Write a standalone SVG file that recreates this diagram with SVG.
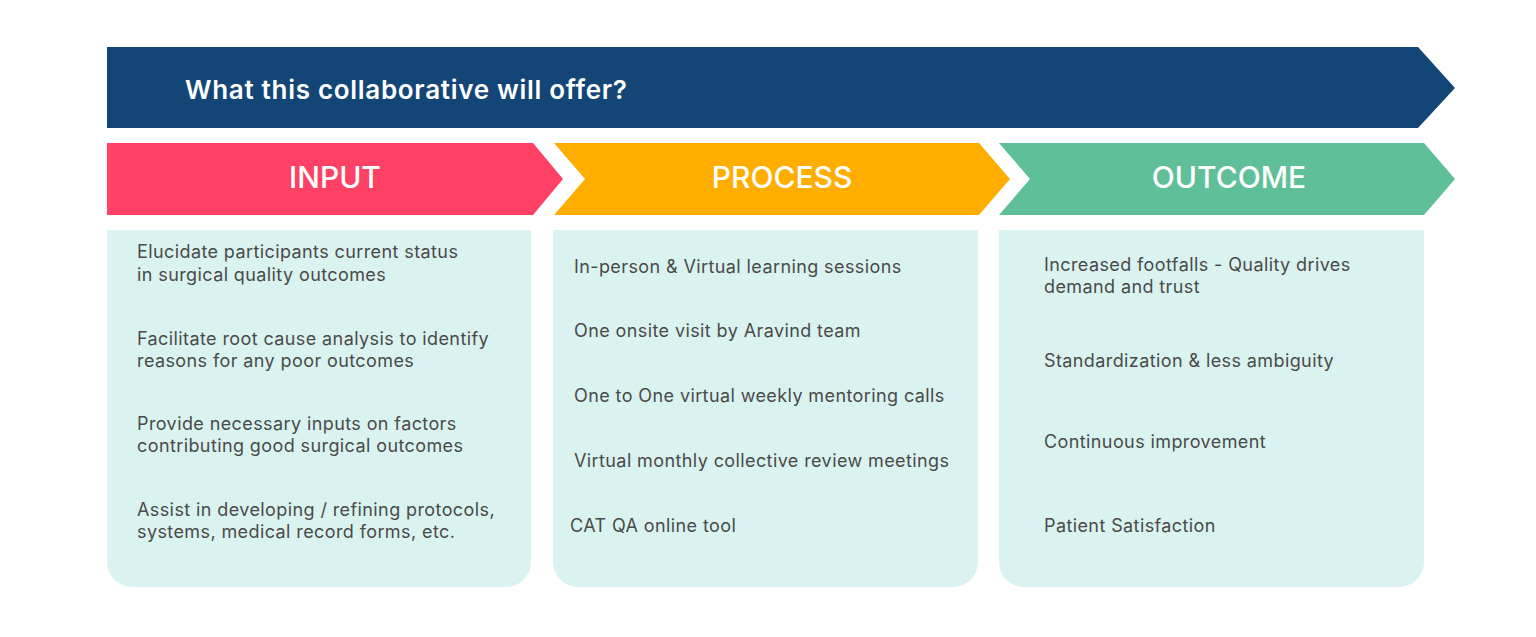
<svg xmlns="http://www.w3.org/2000/svg" width="1536" height="637" viewBox="0 0 1536 637">
<style>
.hdr{font-family:Inter,"Noto Sans",sans-serif;font-weight:600;fill:#ffffff;letter-spacing:0.7px}
.stage{font-family:Inter,"Noto Sans",sans-serif;font-weight:500;font-size:30px;fill:#ffffff;text-anchor:middle}
.item{font-family:Inter,"Noto Sans",sans-serif;font-size:18px;fill:#4a4a4a;letter-spacing:0.4px}
.panel{fill:#daf3f0}
</style>
<rect width="1536" height="637" fill="#ffffff"/>
<g id="banner">
<polygon points="107,47 1418,47 1455,88 1418,128 107,128" fill="#134677"/>
<text class="hdr" x="185" y="99" font-size="26">What this collaborative will offer?</text>
</g>
<g id="input">
<polygon points="107,143 533,143 563,179 533,215 107,215" fill="#ff4165"/>
<text class="stage" x="335" y="188">INPUT</text>
<path class="panel" d="M107,230 H531 V562 A25,25 0 0 1 506,587 H132 A25,25 0 0 1 107,562 Z"/>
<text class="item" x="137" y="258">Elucidate participants current status</text>
<text class="item" x="137" y="281">in surgical quality outcomes</text>
<text class="item" x="137" y="345">Facilitate root cause analysis to identify</text>
<text class="item" x="137" y="367">reasons for any poor outcomes</text>
<text class="item" x="137" y="430">Provide necessary inputs on factors</text>
<text class="item" x="137" y="452">contributing good surgical outcomes</text>
<text class="item" x="137" y="516">Assist in developing / refining protocols,</text>
<text class="item" x="137" y="538">systems, medical record forms, etc.</text>
</g>
<g id="process">
<polygon points="554,143 979,143 1010,179 979,215 554,215 585,179" fill="#ffae00"/>
<text class="stage" x="782" y="188">PROCESS</text>
<path class="panel" d="M553,230 H978 V562 A25,25 0 0 1 953,587 H578 A25,25 0 0 1 553,562 Z"/>
<text class="item" x="574" y="273">In-person &amp; Virtual learning sessions</text>
<text class="item" x="574" y="337">One onsite visit by Aravind team</text>
<text class="item" x="574" y="402">One to One virtual weekly mentoring calls</text>
<text class="item" x="574" y="467">Virtual monthly collective review meetings</text>
<text class="item" x="570" y="532">CAT QA online tool</text>
</g>
<g id="outcome">
<polygon points="999,143 1424,143 1455,179 1424,215 999,215 1030,179" fill="#5fbf98"/>
<text class="stage" x="1229" y="188">OUTCOME</text>
<path class="panel" d="M999,230 H1424 V562 A25,25 0 0 1 1399,587 H1024 A25,25 0 0 1 999,562 Z"/>
<text class="item" x="1044" y="271">Increased footfalls - Quality drives</text>
<text class="item" x="1044" y="293">demand and trust</text>
<text class="item" x="1044" y="367">Standardization &amp; less ambiguity</text>
<text class="item" x="1044" y="448">Continuous improvement</text>
<text class="item" x="1044" y="532">Patient Satisfaction</text>
</g>
<g id="connectors"></g>
</svg>
